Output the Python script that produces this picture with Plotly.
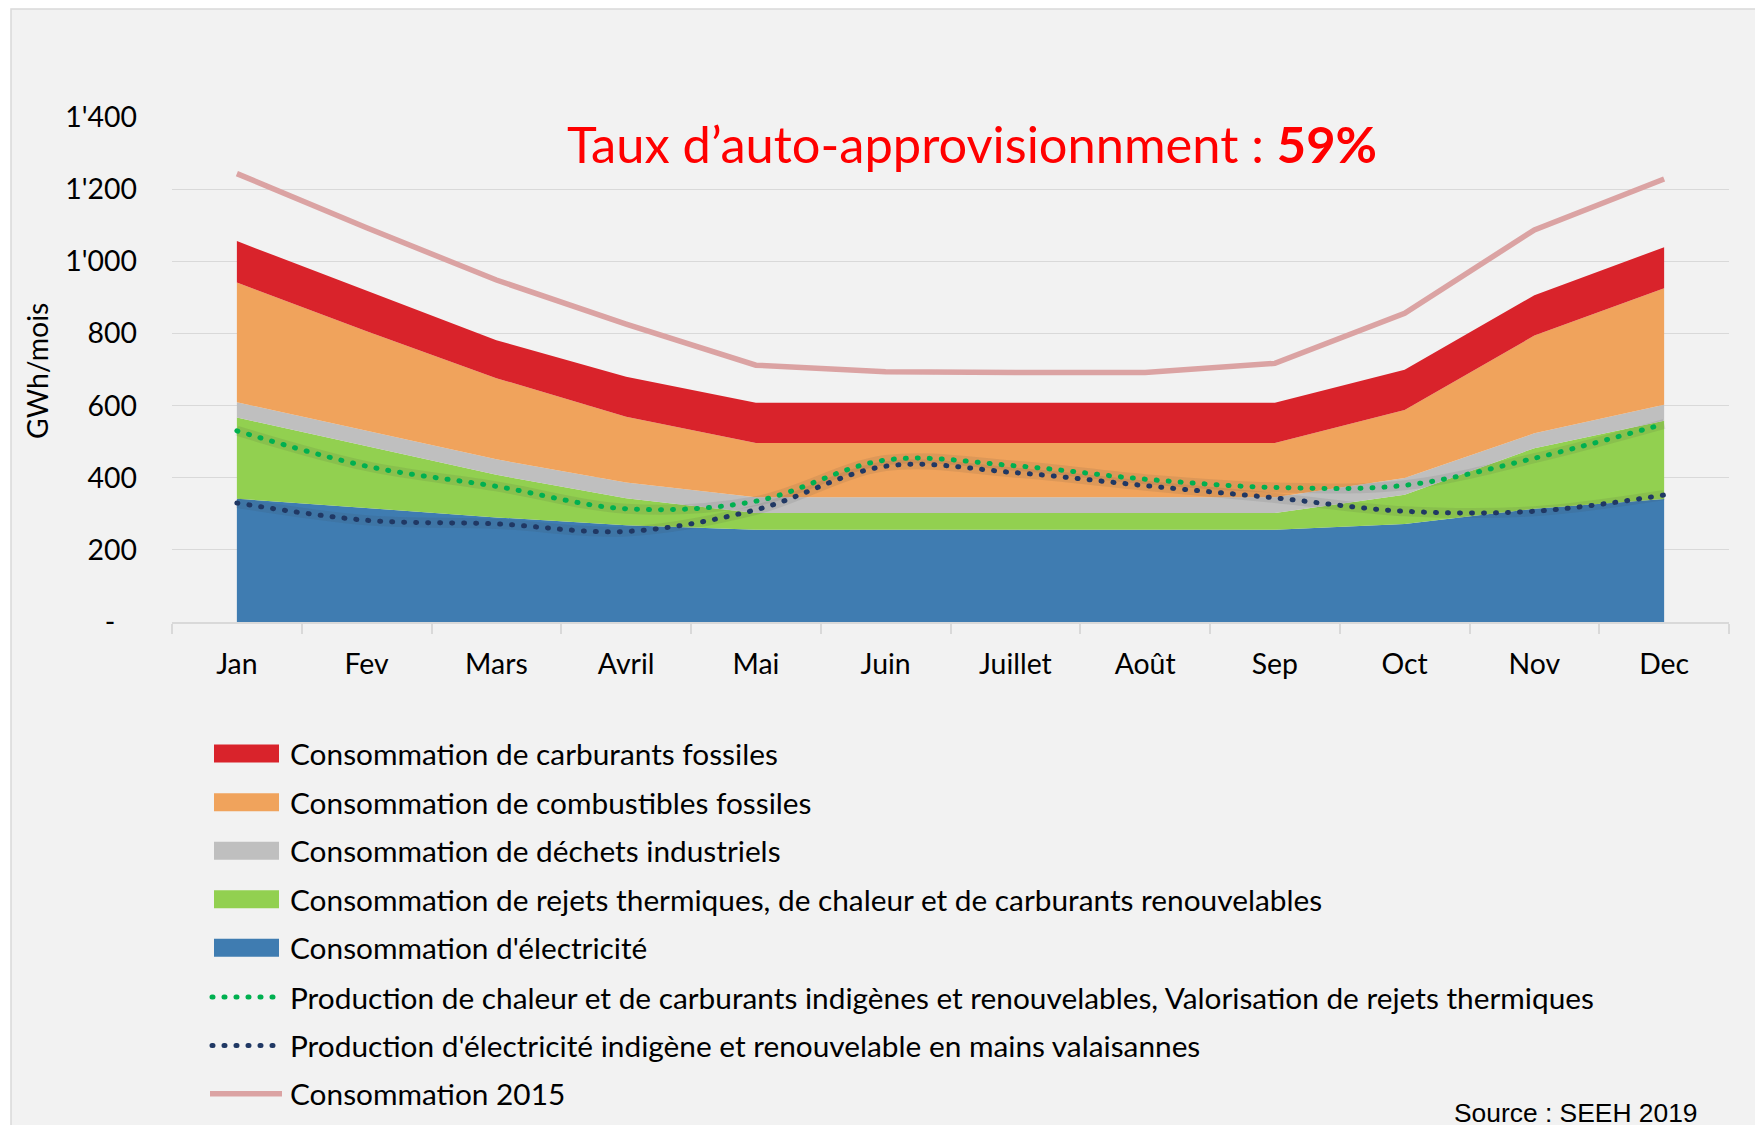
import plotly.graph_objects as go

# ---------------- data ----------------
months = ["Jan", "Fev", "Mars", "Avril", "Mai", "Juin", "Juillet", "Août", "Sep", "Oct", "Nov", "Dec"]

# stacked layers (GWh/mois), bottom to top
electricite = [342, 316, 290, 268, 256, 256, 256, 256, 256, 272, 314, 341]
rejets_renouv = [225, 172, 118, 75, 46, 46, 46, 46, 46, 81, 168, 217]
dechets_ind = [42, 42, 43, 44, 44, 44, 44, 44, 44, 46, 41, 44]
combustibles = [332, 276, 225, 182, 150, 150, 150, 150, 150, 189, 271, 323]
carburants = [115, 112, 105, 111, 112, 112, 112, 112, 112, 111, 112, 114]

# lines
prod_chaleur = [530, 432, 376, 314, 335, 449, 433, 396, 373, 379, 454, 549]
prod_elec = [330, 282, 272, 251, 311, 432, 414, 378, 344, 307, 307, 352]
conso_2015 = [1243, 1093, 948, 826, 712, 694, 692, 692, 717, 856, 1087, 1228]

y_tickvals = [0, 200, 400, 600, 800, 1000, 1200, 1400]
y_ticktext = ["-\u00a0\u00a0\u00a0", "200", "400", "600", "800", "1'000", "1'200", "1'400"]

names = [
    "Consommation de carburants fossiles",
    "Consommation de combustibles fossiles",
    "Consommation de déchets industriels",
    "Consommation de rejets thermiques, de chaleur et de carburants renouvelables",
    "Consommation d'électricité",
    "Production de chaleur et de carburants indigènes et renouvelables, Valorisation de rejets thermiques",
    "Production d'électricité indigène et renouvelable en mains valaisannes",
    "Consommation 2015",
]
title_main = "Taux d’auto-approvisionnment : "
title_bold = "59%"
y_title = "GWh/mois"
source_text = "Source : SEEH 2019"

# ---------------- styles ----------------
C_RED = "#d9232b"
C_ORANGE = "#f0a35c"
C_GRAY = "#bfbfbf"
C_GREEN = "#92d050"
C_BLUE = "#3f7cb1"
C_GDOT = "#00b050"
C_NDOT = "#203864"
C_2015 = "#dba3a3"
DOT = "1px,11px"
FONT = "Lato"

W, H = 1763, 1125
OFF = 8  # page body margin
# plot area in screenshot px
SL, SR, ST, SB = 172, 1729, 117, 622


def px(x):
    return (x - SL) / (SR - SL)


def py(y):
    return (SB - y) / (SB - ST)


fig = go.Figure()

layers = [
    (electricite, names[4], C_BLUE),
    (rejets_renouv, names[3], C_GREEN),
    (dechets_ind, names[2], C_GRAY),
    (combustibles, names[1], C_ORANGE),
    (carburants, names[0], C_RED),
]
for vals, nm, col in layers:
    fig.add_trace(go.Scatter(
        x=months, y=vals, name=nm, mode="lines", stackgroup="conso",
        line=dict(width=0, color=col), fillcolor=col, showlegend=False,
    ))

# soft halo under dotted lines
for vals in (prod_chaleur, prod_elec):
    fig.add_trace(go.Scatter(
        x=months, y=vals, mode="lines", showlegend=False, hoverinfo="skip",
        line=dict(width=10, color="rgba(60,60,60,0.10)", shape="spline", smoothing=1),
    ))

fig.add_trace(go.Scatter(
    x=months, y=prod_chaleur, name=names[5], mode="lines", showlegend=False,
    line=dict(width=5, color=C_GDOT, dash=DOT, shape="spline", smoothing=1),
))
fig.add_trace(go.Scatter(
    x=months, y=prod_elec, name=names[6], mode="lines", showlegend=False,
    line=dict(width=5, color=C_NDOT, dash=DOT, shape="spline", smoothing=1),
))
fig.add_trace(go.Scatter(
    x=months, y=conso_2015, name=names[7], mode="lines", showlegend=False,
    line=dict(width=5.5, color=C_2015),
))

# ---------------- shapes: background + legend ----------------
shapes = [dict(
    type="rect", xref="paper", yref="paper", layer="below",
    x0=px(11), x1=px(1800), y0=py(9), y1=py(1200),
    fillcolor="#f2f2f2", line=dict(color="#d9d9d9", width=1.5),
)]
leg_y = [753.4, 802.3, 850.8, 899.3, 947.8, 997.0, 1045.4, 1093.7]
leg_kind = [("rect", C_RED), ("rect", C_ORANGE), ("rect", C_GRAY), ("rect", C_GREEN),
            ("rect", C_BLUE), ("dot", C_GDOT), ("dot", C_NDOT), ("line", C_2015)]
annotations = []
for yy, (kind, col), nm in zip(leg_y, leg_kind, names):
    if kind == "rect":
        shapes.append(dict(type="rect", xref="paper", yref="paper",
                           x0=px(214), x1=px(279), y0=py(yy + 9), y1=py(yy - 9),
                           fillcolor=col, line=dict(width=0)))
    elif kind == "dot":
        shapes.append(dict(type="line", xref="paper", yref="paper",
                           x0=px(212), x1=px(278), y0=py(yy), y1=py(yy),
                           line=dict(color=col, width=5, dash=DOT)))
    else:
        shapes.append(dict(type="line", xref="paper", yref="paper",
                           x0=px(210), x1=px(282), y0=py(yy), y1=py(yy),
                           line=dict(color=col, width=5.5)))
    annotations.append(dict(
        text=nm, xref="paper", yref="paper", x=px(288), y=py(yy),
        xanchor="left", yanchor="middle", showarrow=False,
        font=dict(family=FONT, size=29.8, color="#000000"),
    ))

annotations.append(dict(
    text=title_main + "<b>" + title_bold + "</b>", xref="paper", yref="paper",
    x=px(565), y=py(143), xanchor="left", yanchor="middle", showarrow=False,
    font=dict(family=FONT, size=50.6, color="#ff0000"),
))
annotations.append(dict(
    text=y_title, xref="paper", yref="paper", x=px(37), y=py(371),
    xanchor="center", yanchor="middle", textangle=-90, showarrow=False,
    font=dict(family=FONT, size=28.4, color="#000000"),
))
annotations.append(dict(
    text=source_text, xref="paper", yref="paper", x=px(1452), y=py(1096),
    xanchor="left", yanchor="top", showarrow=False,
    font=dict(family="Liberation Sans, Arial", size=26.4, color="#000000"),
))

fig.update_layout(
    width=W, height=H,
    margin=dict(l=SL - OFF, r=W - (SR - OFF), t=ST - OFF, b=H - (SB - OFF), pad=0),
    paper_bgcolor="#ffffff", plot_bgcolor="rgba(0,0,0,0)",
    showlegend=False,
    font=dict(family=FONT, size=28.4, color="#000000"),
    shapes=shapes, annotations=annotations,
    xaxis=dict(
        type="category", categoryorder="array", categoryarray=months,
        range=[-0.5, 11.5], showgrid=False, zeroline=False,
        showline=True, linecolor="#d9d9d9", linewidth=2,
        ticks="outside", tickson="boundaries", ticklen=10, tickwidth=2, tickcolor="#d9d9d9",
        tickfont=dict(family=FONT, size=28.4, color="#000000"),
        ticklabelstandoff=16, fixedrange=True,
    ),
    yaxis=dict(
        range=[0, 1400], tickvals=y_tickvals, ticktext=y_ticktext,
        showgrid=True, gridcolor="#d9d9d9", gridwidth=1.3,
        zeroline=False, showline=False, ticks="",
        tickfont=dict(family=FONT, size=28.4, color="#000000"),
        ticklabelstandoff=34, fixedrange=True,
    ),
)

post = """
var gd = document.getElementById('{plot_id}');
function roundDots(){
  gd.querySelectorAll('path').forEach(function(p){
    var s = p.style.strokeDasharray;
    if (s && s !== 'none' && s !== '') { p.style.strokeLinecap = 'round'; }
  });
}
roundDots();
gd.on('plotly_afterplot', roundDots);
"""

fig.write_html("out.html", post_script=post, config={"displayModeBar": False})
